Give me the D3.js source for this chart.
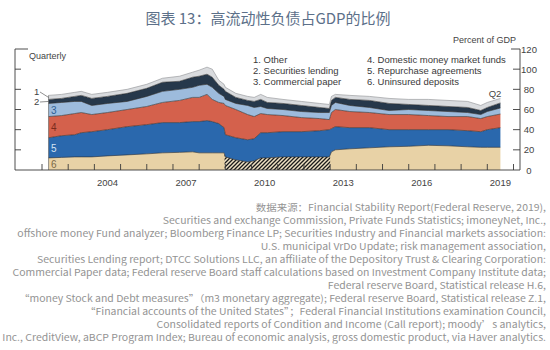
<!DOCTYPE html>
<html>
<head>
<meta charset="utf-8">
<script src="https://cdn.jsdelivr.net/npm/d3@7"></script>
<style>
  html, body { margin: 0; padding: 0; background: #fff; }
  svg { display: block; }
</style>
</head>
<body>
<div id="chart"></div>
<script>
// ---------------- DATA ----------------
const titleText = "图表 13：高流动性负债占GDP的比例";
const seriesNames = ["1. Other", "2. Securities lending", "3. Commercial paper",
                     "4. Domestic money market funds", "5. Repurchase agreements", "6. Uninsured deposits"];
// observation positions (decimal years)
const dates = [2002.25, 2002.75, 2003.25, 2003.5, 2003.9, 2004.5, 2005.25, 2006.0, 2006.6, 2007.25,
               2007.75, 2008.0, 2008.3, 2008.5, 2008.75, 2008.95, 2009.0, 2009.4, 2009.85, 2010.1,
               2010.35, 2010.6, 2011.2, 2011.9, 2012.6, 2012.97, 2013.05, 2013.2, 2013.75, 2014.5,
               2015.25, 2016.0, 2016.75, 2017.5, 2018.25, 2018.75, 2019.0, 2019.5];
// percent of GDP, each layer (bottom to top)
const uninsuredDeposits = [12, 12.5, 13, 13, 13, 14, 15, 16, 17, 17.5,
                           18, 17, 17, 17, 17, 17, 13, 10, 8, 9,
                           12, 12, 13, 13, 13, 13, 18, 20, 21, 22,
                           23, 23.5, 24.5, 24, 23, 22.5, 22.5, 22.5];
const repurchaseAgreements = [20, 21.5, 22, 24, 25, 26, 28, 29, 30, 29.5,
                              30, 31, 32, 31, 29, 25, 22, 22, 22, 22,
                              25, 25, 25, 25, 26, 27, 23, 23, 21, 20,
                              17, 16.5, 15.5, 16, 16, 15.5, 17.5, 19.5];
const moneyMarketFunds = [21, 20, 21, 20, 17, 17, 17, 18, 20, 22,
                          24, 24, 26, 22, 21, 24, 29, 28, 25, 22,
                          19, 18, 16, 14, 12, 10, 16, 17, 16, 15,
                          15, 15, 14, 13, 14, 13, 13, 13.5];
const commercialPaper = [13, 13, 12, 11, 9, 9, 8, 10, 11, 11,
                         10, 12, 10, 12, 9, 7, 6, 6, 9, 9,
                         7, 6, 6, 6, 6, 7, 7, 7, 6, 5,
                         4, 5, 5, 5, 4, 4, 5, 6];
const securitiesLending = [4, 4, 5, 6, 7, 7, 8, 8, 9, 8,
                           10, 9, 10, 10, 8, 7, 8, 6, 5, 6,
                           7, 6, 6, 6, 5, 4, 5, 5, 6, 7,
                           7, 5, 5, 5, 5, 4, 4, 5];
const other = [4, 4, 4, 4, 4, 4, 4, 4, 4, 5,
               5, 6, 7, 8, 5, 5, 4, 4, 4, 4,
               5, 5, 4, 4, 4, 4, 4, 3, 4, 4,
               5, 5, 6, 6, 6, 5, 5, 4.5];
// period drawn with hatching (uninsured deposits)
const hatchPeriod = [2008.97, 2013.0];
const yTicks = [0, 20, 40, 60, 80, 100, 120];
const yearTicks = d3.range(2002, 2021);
const yearLabels = [2004, 2007, 2010, 2013, 2016, 2019];
const noteLines = [
  "数据来源：Financial Stability Report(Federal Reserve, 2019),",
  "Securities and exchange Commission, Private Funds Statistics; imoneyNet, Inc.,",
  "offshore money Fund analyzer; Bloomberg Finance LP; Securities Industry and Financial markets association:",
  "U.S. municipal VrDo Update; risk management association,",
  "Securities Lending report; DTCC Solutions LLC, an affiliate of the Depository Trust & Clearing Corporation:",
  "Commercial Paper data; Federal reserve Board staff calculations based on Investment Company Institute data;",
  "Federal reserve Board, Statistical release H.6,",
  "“money Stock and Debt measures”（m3 monetary aggregate); Federal reserve Board, Statistical release Z.1,",
  "“Financial accounts of the United States”；Federal Financial Institutions examination Council,",
  "Consolidated reports of Condition and Income (Call report); moody’s analytics,",
  "Inc., CreditView, aBCP Program Index; Bureau of economic analysis, gross domestic product, via Haver analytics."
];

// ---------------- LAYOUT ----------------
const W = 550, H = 350;
const svg = d3.select("#chart").append("svg").attr("width", W).attr("height", H);

const x = d3.scaleLinear().domain([2002, 2020]).range([42, 513.5]);
const y = d3.scaleLinear().domain([0, 120]).range([170, 49]);

const keys = ["u", "r", "m", "c", "s", "o"];
const rows = dates.map((d, i) => ({
  date: d, u: uninsuredDeposits[i], r: repurchaseAgreements[i], m: moneyMarketFunds[i],
  c: commercialPaper[i], s: securitiesLending[i], o: other[i]
}));
const stacked = d3.stack().keys(keys)(rows);
const fills = { u: "#e8d2a6", r: "#2a68ad", m: "#d4614c", c: "#9dbbdc", s: "#26384b", o: "#d9dbde" };

// title
svg.append("text")
  .attr("x", 268).attr("y", 24)
  .attr("text-anchor", "middle")
  .style("font-family", "'Noto Sans CJK SC', sans-serif")
  .style("font-size", "15px")
  .style("fill", "#5c7089")
  .text(titleText);

// hatch pattern
const defs = svg.append("defs");
const pat = defs.append("pattern").attr("id", "hatch")
  .attr("patternUnits", "userSpaceOnUse").attr("width", 4).attr("height", 4);
pat.append("rect").attr("width", 4).attr("height", 4).attr("fill", "#efe2c4");
pat.append("path").attr("d", "M-1,1 L1,-1 M0,4 L4,0 M3,5 L5,3")
  .attr("stroke", "#1a1a1a").attr("stroke-width", 1.3);
defs.append("clipPath").attr("id", "hatchClip").append("rect")
  .attr("x", x(hatchPeriod[0])).attr("y", 0)
  .attr("width", x(hatchPeriod[1]) - x(hatchPeriod[0])).attr("height", H);

const area = d3.area().x(d => x(d.data.date)).y0(d => y(d[0])).y1(d => y(d[1]));
const topLine = d3.line().x(d => x(d.data.date)).y(d => y(d[1]));

svg.append("g").selectAll("path").data(stacked).join("path")
  .attr("d", area).attr("fill", d => fills[d.key]);

// hatched part of uninsured deposits
svg.append("path").datum(stacked[0])
  .attr("d", area).attr("fill", "url(#hatch)").attr("clip-path", "url(#hatchClip)");

// boundary lines
svg.append("g").selectAll("path").data(stacked).join("path")
  .attr("d", topLine).attr("fill", "none")
  .attr("stroke", d => d.key === "o" ? "#8d8f92" : "#2a2a2a")
  .attr("stroke-width", 0.6);
// left edge
const first = stacked[stacked.length - 1][0];
svg.append("line").attr("x1", x(dates[0])).attr("x2", x(dates[0]))
  .attr("y1", y(0)).attr("y2", y(first[1])).attr("stroke", "#555").attr("stroke-width", 0.6);

// axes
const axisColor = "#3a3a3a";
const axes = svg.append("g").attr("stroke", axisColor).attr("stroke-width", 0.9);
axes.append("line").attr("x1", 15).attr("x2", 520).attr("y1", y(0)).attr("y2", y(0));
axes.append("line").attr("x1", 15).attr("x2", 15).attr("y1", y(0)).attr("y2", y(120));
axes.append("line").attr("x1", 520).attr("x2", 520).attr("y1", y(0)).attr("y2", y(120));
axes.selectAll(".lt").data(yTicks.filter(v => v > 0)).join("line")
  .attr("x1", 15).attr("x2", v => v === 120 ? 28 : 21)
  .attr("y1", v => y(v)).attr("y2", v => y(v));
axes.selectAll(".rt").data(yTicks.filter(v => v > 0)).join("line")
  .attr("x1", 520).attr("x2", v => v === 120 ? 511 : 513)
  .attr("y1", v => y(v)).attr("y2", v => y(v));
axes.selectAll(".xt").data(yearTicks).join("line")
  .attr("x1", d => x(d)).attr("x2", d => x(d))
  .attr("y1", y(0)).attr("y2", y(0) - 6);

const labelFont = "'Liberation Sans', Arial, sans-serif";
svg.append("g").selectAll("text").data(yTicks).join("text")
  .attr("x", 529).attr("y", v => y(v) + 3.5).attr("text-anchor", "middle")
  .style("font-family", labelFont).style("font-size", "9.5px").style("fill", "#444")
  .text(v => v);
svg.append("g").selectAll("text").data(yearLabels).join("text")
  .attr("x", d => x(d + 0.5)).attr("y", 186).attr("text-anchor", "middle")
  .style("font-family", labelFont).style("font-size", "9.5px").style("fill", "#444")
  .text(d => d);

svg.append("text").attr("x", 516).attr("y", 43).attr("text-anchor", "end")
  .style("font-family", labelFont).style("font-size", "9px").style("fill", "#444")
  .text("Percent of GDP");
svg.append("text").attr("x", 29).attr("y", 59)
  .style("font-family", labelFont).style("font-size", "9px").style("fill", "#444")
  .text("Quarterly");
svg.append("text").attr("x", 495).attr("y", 96.5).attr("text-anchor", "middle")
  .style("font-family", labelFont).style("font-size", "9.5px").style("fill", "#444")
  .text("Q2");

// legend
const legendCols = [[253, seriesNames.slice(0, 3)], [367, seriesNames.slice(3)]];
legendCols.forEach(([lx, names]) => {
  svg.append("g").selectAll("text").data(names).join("text")
    .attr("x", lx).attr("y", (d, i) => 63 + i * 11)
    .style("font-family", labelFont).style("font-size", "9.5px").style("fill", "#3a3a3a")
    .text(d => d);
});

// in-chart layer numbers
const inLabels = [
  { t: "3", k: 3, c: "#2f5f93" }, { t: "4", k: 2, c: "#7a2b1d" },
  { t: "5", k: 1, c: "#d6e4f3" }, { t: "6", k: 0, c: "#7b6a47" }
];
svg.append("g").selectAll("text").data(inLabels).join("text")
  .attr("x", 51).attr("y", d => { const p = stacked[d.k][0]; return y((p[0] + p[1]) / 2) + 4; })
  .style("font-family", labelFont).style("font-size", "10px").style("fill", d => d.c)
  .text(d => d.t);
// leaders for 1 and 2
const s0 = stacked[5][0], s1 = stacked[4][0];
svg.append("text").attr("x", 34).attr("y", 95).style("font-family", labelFont)
  .style("font-size", "9.5px").style("fill", "#444").text("1");
svg.append("text").attr("x", 34).attr("y", 105).style("font-family", labelFont)
  .style("font-size", "9.5px").style("fill", "#444").text("2");
svg.append("line").attr("x1", 40).attr("y1", 92).attr("x2", x(dates[0])).attr("y2", y((s0[0] + s0[1]) / 2))
  .attr("stroke", "#444").attr("stroke-width", 0.6);
svg.append("line").attr("x1", 40).attr("y1", 102).attr("x2", x(dates[0])).attr("y2", y((s1[0] + s1[1]) / 2))
  .attr("stroke", "#444").attr("stroke-width", 0.6);

// source notes, right aligned; condensed horizontally so the longest line fits
const noteG = svg.append("g")
  .style("font-family", "'Noto Sans CJK SC', 'Noto Sans', sans-serif")
  .style("font-size", "9.6px")
  .style("fill", "#939393");
const notes = noteG.selectAll("text").data(noteLines).join("text")
  .attr("x", 0).attr("y", (d, i) => 211 + i * 13)
  .attr("text-anchor", "end")
  .text(d => d);
let maxW = 0;
notes.each(function () { maxW = Math.max(maxW, this.getComputedTextLength()); });
const sx = Math.min(1.2, 544 / maxW);
noteG.attr("transform", `translate(546,0) scale(${sx},1)`);
</script>
</body>
</html>
